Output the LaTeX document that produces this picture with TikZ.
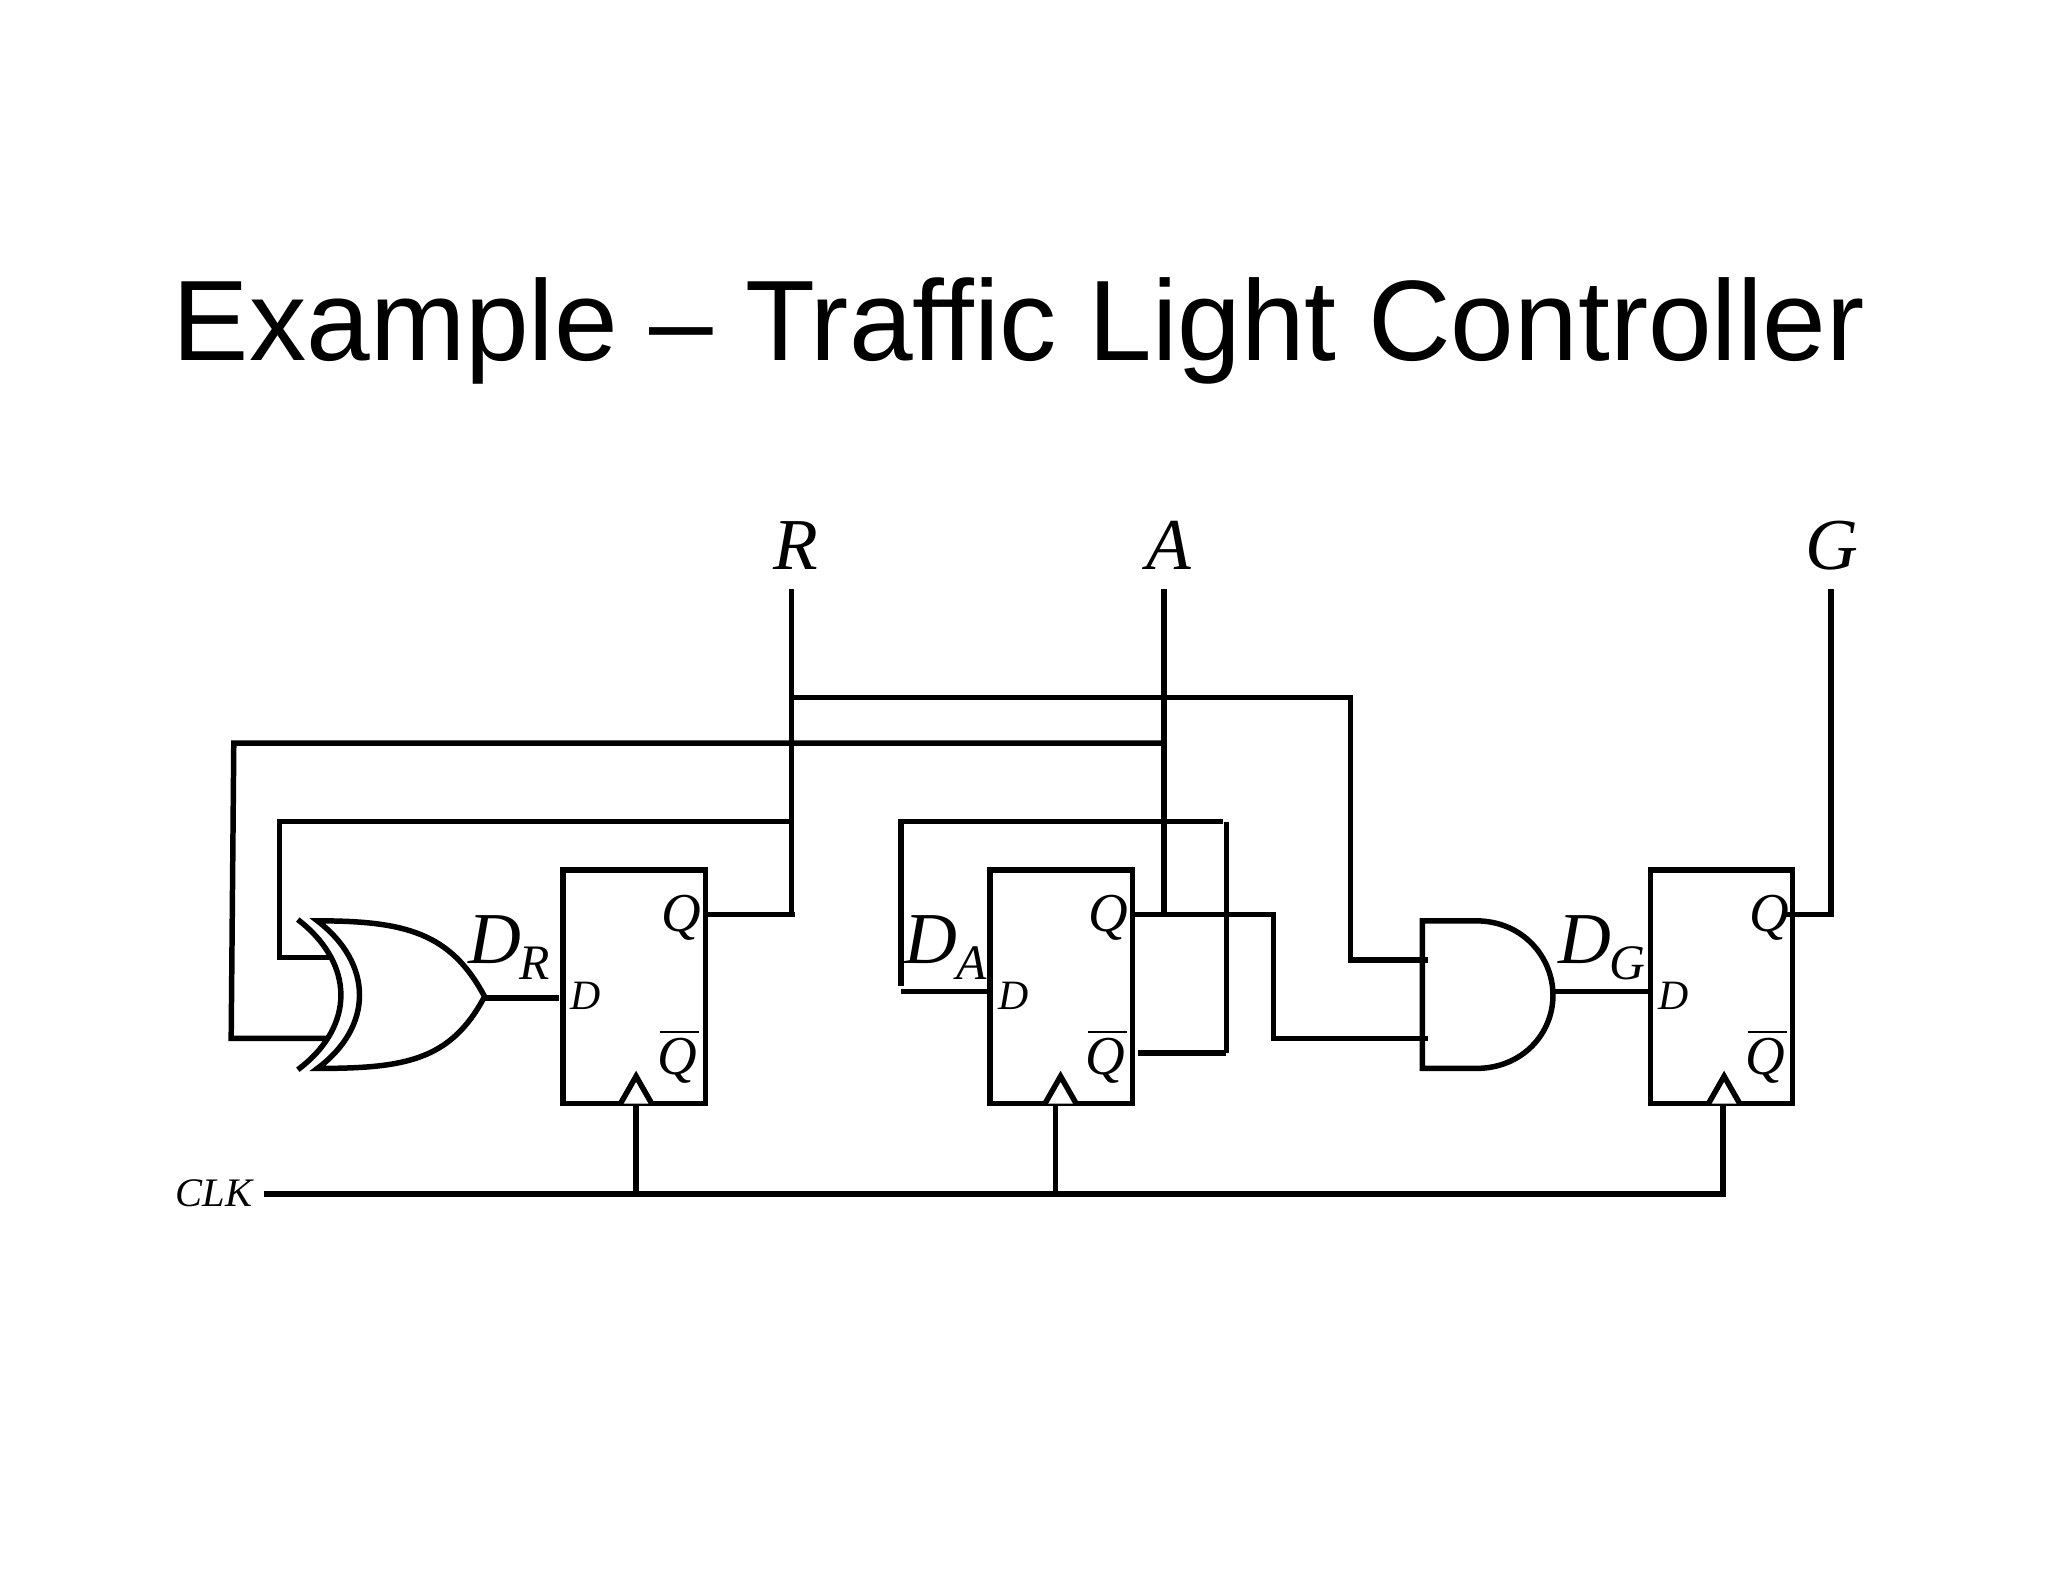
\documentclass[tikz,border=0pt]{standalone}
\usepackage{fontspec}
\setmainfont{Liberation Serif}
\newfontfamily\titlefont{Liberation Sans}
\tikzset{
  x=0.5pt,y=-0.5pt,
  wire/.style={line width=2.1pt,black},
  gate/.style={line width=2.1pt,black,miter limit=10},
  ffbox/.style={draw,line width=2.1pt,rectangle,inner sep=0pt,minimum width=54.5pt,minimum height=89.5pt,fill=white},
  clocktip/.style={line width=2.1pt,fill=white},
  lab/.style={inner sep=0pt,anchor=base west,font=\itshape},
  biglab/.style={lab,font=\fontsize{28}{28}\selectfont\itshape},
  sublab/.style={lab,font=\fontsize{19}{19}\selectfont\itshape},
  qlab/.style={lab,font=\fontsize{21}{21}\selectfont\itshape},
  dlab/.style={lab,font=\fontsize{16}{16}\selectfont\itshape},
  bar/.style={line width=0.5pt}
}
\begin{document}
\begin{tikzpicture}
\useasboundingbox (0,0) rectangle (1568,1211.2);
\node[inner sep=0pt,anchor=base west,font=\titlefont\fontsize{43.8}{46}\selectfont] (title) at (132,276) {Example – Traffic Light Controller};

% output labels
\node[biglab] (lR) at (592,436) {R};
\node[biglab] (lA) at (877,436) {A};
\node[biglab] (lG) at (1382,436) {G};
\node[dlab,font=\fontsize{15.5}{16}\selectfont\itshape] (lclk) at (134,924) {CLK};

% flip-flops
\node[ffbox] (ff1) at (485.5,755.5) {};
\node[ffbox] (ff2) at (812.5,755.5) {};
\node[ffbox] (ff3) at (1318,755.5) {};

\foreach \f/\dx/\qx/\qbx/\tx in {1/436/506/503/487, 2/764/833/831/812, 3/1269/1339/1336/1320}{
  \node[dlab] (d\f) at (\dx,773) {D};
  \node[qlab] (q\f) at (\qx,713) {Q};
  \node[qlab] (qb\f) at (\qbx,823) {Q};
  \draw[bar] (qb\f.base west) ++(2,-33) -- ++(30,0);
  \draw[clocktip] (\tx-12,845) -- (\tx,824) -- (\tx+12,845);
}

% gate input labels
\node[biglab] (DR) at (358,738) {D};
\node[sublab] (sR) at (397,750) {R};
\node[biglab] (DA) at (692,738) {D};
\node[sublab] (sA) at (732,750) {A};
\node[biglab] (DG) at (1193,738) {D};
\node[sublab] (sG) at (1232,750) {G};

% XOR gate
\draw[gate] (228,704) .. controls (272,738) and (272,786) .. (228,819);
\draw[gate] (243,705) .. controls (286,738) and (286,786) .. (243,818)
  .. controls (310,818) and (345,812) .. (371,763)
  .. controls (345,714) and (310,705) .. (243,705) -- cycle;
\coordinate (xorA) at (254,733);
\coordinate (xorB) at (252,795);
\coordinate (xorO) at (371,764);

% AND gate
\draw[gate] (1089,818) -- (1089,705) -- (1130,705)
  .. controls (1166,705) and (1189,733) .. (1189,762)
  .. controls (1189,791) and (1166,818) .. (1130,818) -- cycle;
\coordinate (andA) at (1093,735);
\coordinate (andB) at (1093,795);
\coordinate (andO) at (1189,759);

% pins and junctions
\coordinate (q1o) at (541,700);
\coordinate (q1j) at (609,700);
\coordinate (q2o) at (868,700);
\coordinate (q2k) at (975,700);
\coordinate (q2kb) at (975,795);
\coordinate (qb2o) at (871,806);
\coordinate (qb2k) at (939,806);
\coordinate (q3o) at (1367,700);
\coordinate (q3k) at (1402,700);
\coordinate (Rtop) at (606,451);
\coordinate (Rbot) at (606,700);
\coordinate (Atop) at (891,451);
\coordinate (Abot) at (891,700);
\coordinate (Gtop) at (1402,451);
\coordinate (j1a) at (608,534);
\coordinate (j1b) at (1034,534);
\coordinate (j1c) at (1034,735);
\coordinate (j2a) at (889,569);
\coordinate (j2b) at (179,569);
\coordinate (j2c) at (177,795);
\coordinate (j3a) at (606,629);
\coordinate (j3b) at (214,629);
\coordinate (j3c) at (214,733);
\coordinate (j4a) at (936,629);
\coordinate (j4b) at (690,629);
\coordinate (j4c) at (690,755);
\coordinate (j4d) at (690,759);
\coordinate (j4e) at (939,629);
\coordinate (dg) at (1264,759);
\coordinate (da) at (758,759);
\coordinate (dr) at (428,764);
\coordinate (clk0) at (202,914);
\coordinate (clk3) at (1319,914);
\coordinate (clk1) at (487,914);
\coordinate (clk2) at (808,914);
\coordinate (c1) at (487,845);
\coordinate (c2) at (808,845);
\coordinate (c3) at (1319,845);

% wires
\draw[wire] (Rtop) -- (Rbot);
\draw[wire] (q1o) -- (q1j);
\draw[wire] (Atop) -- (Abot);
\draw[wire] (q2o) -- (q2k) -- (q2kb) -- (andB);
\draw[wire] (Gtop) -- (q3k) -- (q3o);
\draw[wire] (j1a) -- (j1b) -- (j1c) -- (andA);
\draw[wire] (j2a) -- (j2b) -- (j2c) -- (xorB);
\draw[wire] (j3a) -- (j3b) -- (j3c) -- (xorA);
\draw[wire] (j4a) -- (j4b) -- (j4c);
\draw[wire] (j4d) -- (da);
\draw[wire] (j4e) -- (qb2k);
\draw[wire] (qb2k) -- (qb2o);
\draw[wire] (xorO) -- (dr);
\draw[wire] (andO) -- (dg);
\draw[wire] (clk0) -- (clk3) -- (c3);
\draw[wire] (clk1) -- (c1);
\draw[wire] (clk2) -- (c2);
\end{tikzpicture}
\end{document}
